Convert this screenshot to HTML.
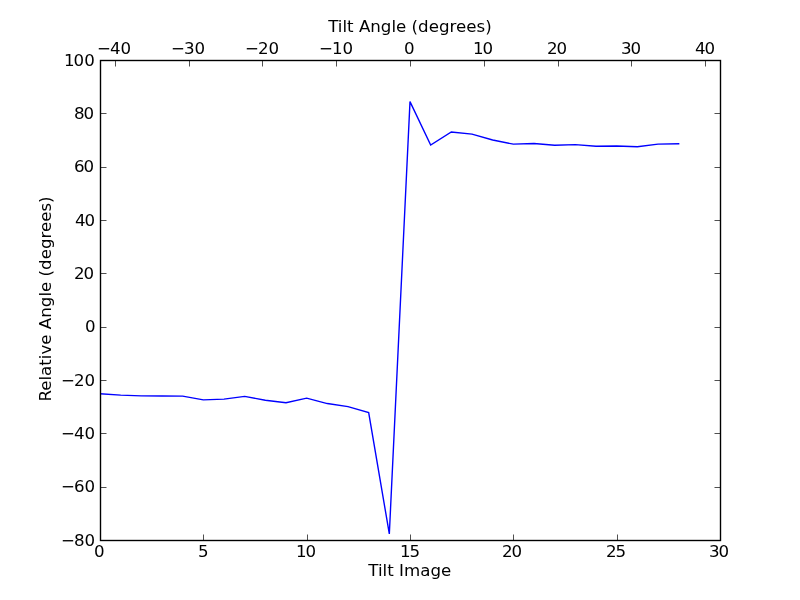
<!DOCTYPE html>
<html><head><meta charset="utf-8"><title>Tilt plot</title>
<style>
html,body{margin:0;padding:0;background:#fff;}
body{width:800px;height:600px;overflow:hidden;}
svg{display:block;}
text{font-family:"DejaVu Sans","Liberation Sans",sans-serif;font-size:16.667px;fill:#000;}
.tk line{stroke:#000;stroke-width:.69;}
</style></head><body>
<svg width="800" height="600" viewBox="0 0 800 600">
<rect x="0" y="0" width="800" height="600" fill="#fff"/>
<defs><clipPath id="ax"><rect x="100" y="60" width="620" height="480"/></clipPath></defs>
<polyline clip-path="url(#ax)" fill="none" stroke="#0000ff" stroke-width="1.39" stroke-linejoin="miter" stroke-linecap="square" stroke-miterlimit="4" points="100.00,393.76 120.67,395.15 141.33,395.87 162.00,396.00 182.67,396.13 203.33,399.89 224.00,399.12 244.67,396.40 265.33,400.19 286.00,402.80 306.67,398.13 327.33,403.55 348.00,406.56 368.67,412.53 389.33,533.92 410.00,101.60 430.67,145.07 451.33,132.00 472.00,134.13 492.67,140.00 513.33,144.16 534.00,143.47 554.67,145.20 575.33,144.67 596.00,146.24 616.67,145.95 637.33,146.69 658.00,144.13 678.67,143.73"/>
<rect x="100.5" y="60.5" width="620" height="480" fill="none" stroke="#000" stroke-width="1.39" stroke-linejoin="miter"/>
<g class="tk">
<line x1="203.5" y1="534.5" x2="203.5" y2="540.5"/><line x1="307.5" y1="534.5" x2="307.5" y2="540.5"/><line x1="410.5" y1="534.5" x2="410.5" y2="540.5"/><line x1="513.5" y1="534.5" x2="513.5" y2="540.5"/><line x1="617.5" y1="534.5" x2="617.5" y2="540.5"/>
<line x1="115.5" y1="60.5" x2="115.5" y2="66.5"/><line x1="189.5" y1="60.5" x2="189.5" y2="66.5"/><line x1="262.5" y1="60.5" x2="262.5" y2="66.5"/><line x1="336.5" y1="60.5" x2="336.5" y2="66.5"/><line x1="410.5" y1="60.5" x2="410.5" y2="66.5"/><line x1="484.5" y1="60.5" x2="484.5" y2="66.5"/><line x1="558.5" y1="60.5" x2="558.5" y2="66.5"/><line x1="631.5" y1="60.5" x2="631.5" y2="66.5"/><line x1="705.5" y1="60.5" x2="705.5" y2="66.5"/>
<line x1="100.5" y1="487.5" x2="106.5" y2="487.5"/><line x1="714.5" y1="487.5" x2="720.5" y2="487.5"/><line x1="100.5" y1="433.5" x2="106.5" y2="433.5"/><line x1="714.5" y1="433.5" x2="720.5" y2="433.5"/><line x1="100.5" y1="380.5" x2="106.5" y2="380.5"/><line x1="714.5" y1="380.5" x2="720.5" y2="380.5"/><line x1="100.5" y1="327.5" x2="106.5" y2="327.5"/><line x1="714.5" y1="327.5" x2="720.5" y2="327.5"/><line x1="100.5" y1="273.5" x2="106.5" y2="273.5"/><line x1="714.5" y1="273.5" x2="720.5" y2="273.5"/><line x1="100.5" y1="220.5" x2="106.5" y2="220.5"/><line x1="714.5" y1="220.5" x2="720.5" y2="220.5"/><line x1="100.5" y1="167.5" x2="106.5" y2="167.5"/><line x1="714.5" y1="167.5" x2="720.5" y2="167.5"/><line x1="100.5" y1="113.5" x2="106.5" y2="113.5"/><line x1="714.5" y1="113.5" x2="720.5" y2="113.5"/>
</g>
<g>
<text x="94.00" y="557">0</text><text x="198.00" y="557">5</text><text x="296.00 305.60" y="557">10</text><text x="400.00 409.60" y="557">15</text><text x="502.00 511.60" y="557">20</text><text x="606.00 615.60" y="557">25</text><text x="709.00 718.60" y="557">30</text>
<text x="97.00 109.97 120.57" y="54">−40</text><text x="171.00 183.97 194.57" y="54">−30</text><text x="245.00 257.97 268.57" y="54">−20</text><text x="319.00 331.97 342.57" y="54">−10</text><text x="404.00" y="54">0</text><text x="473.00 482.60" y="54">10</text><text x="547.00 556.60" y="54">20</text><text x="621.00 630.60" y="54">30</text><text x="695.00 704.60" y="54">40</text>
<text x="61.00 73.97 84.57" y="546">−80</text><text x="61.00 73.97 84.57" y="492">−60</text><text x="61.00 73.97 84.57" y="439">−40</text><text x="61.00 73.97 84.57" y="386">−20</text><text x="85.00" y="332">0</text><text x="74.00 83.60" y="279">20</text><text x="75.00 84.60" y="226">40</text><text x="74.00 83.60" y="172">60</text><text x="74.00 83.60" y="119">80</text><text x="64.00 73.60 84.21" y="66">100</text>
</g>
<g text-anchor="middle">
<text x="409.9" y="32">Tilt Angle (degrees)</text>
<text x="409.8" y="576">Tilt Image</text>
<text transform="translate(51,299) rotate(-90)" x="0" y="0">Relative Angle (degrees)</text>
</g>
</svg>
</body></html>
